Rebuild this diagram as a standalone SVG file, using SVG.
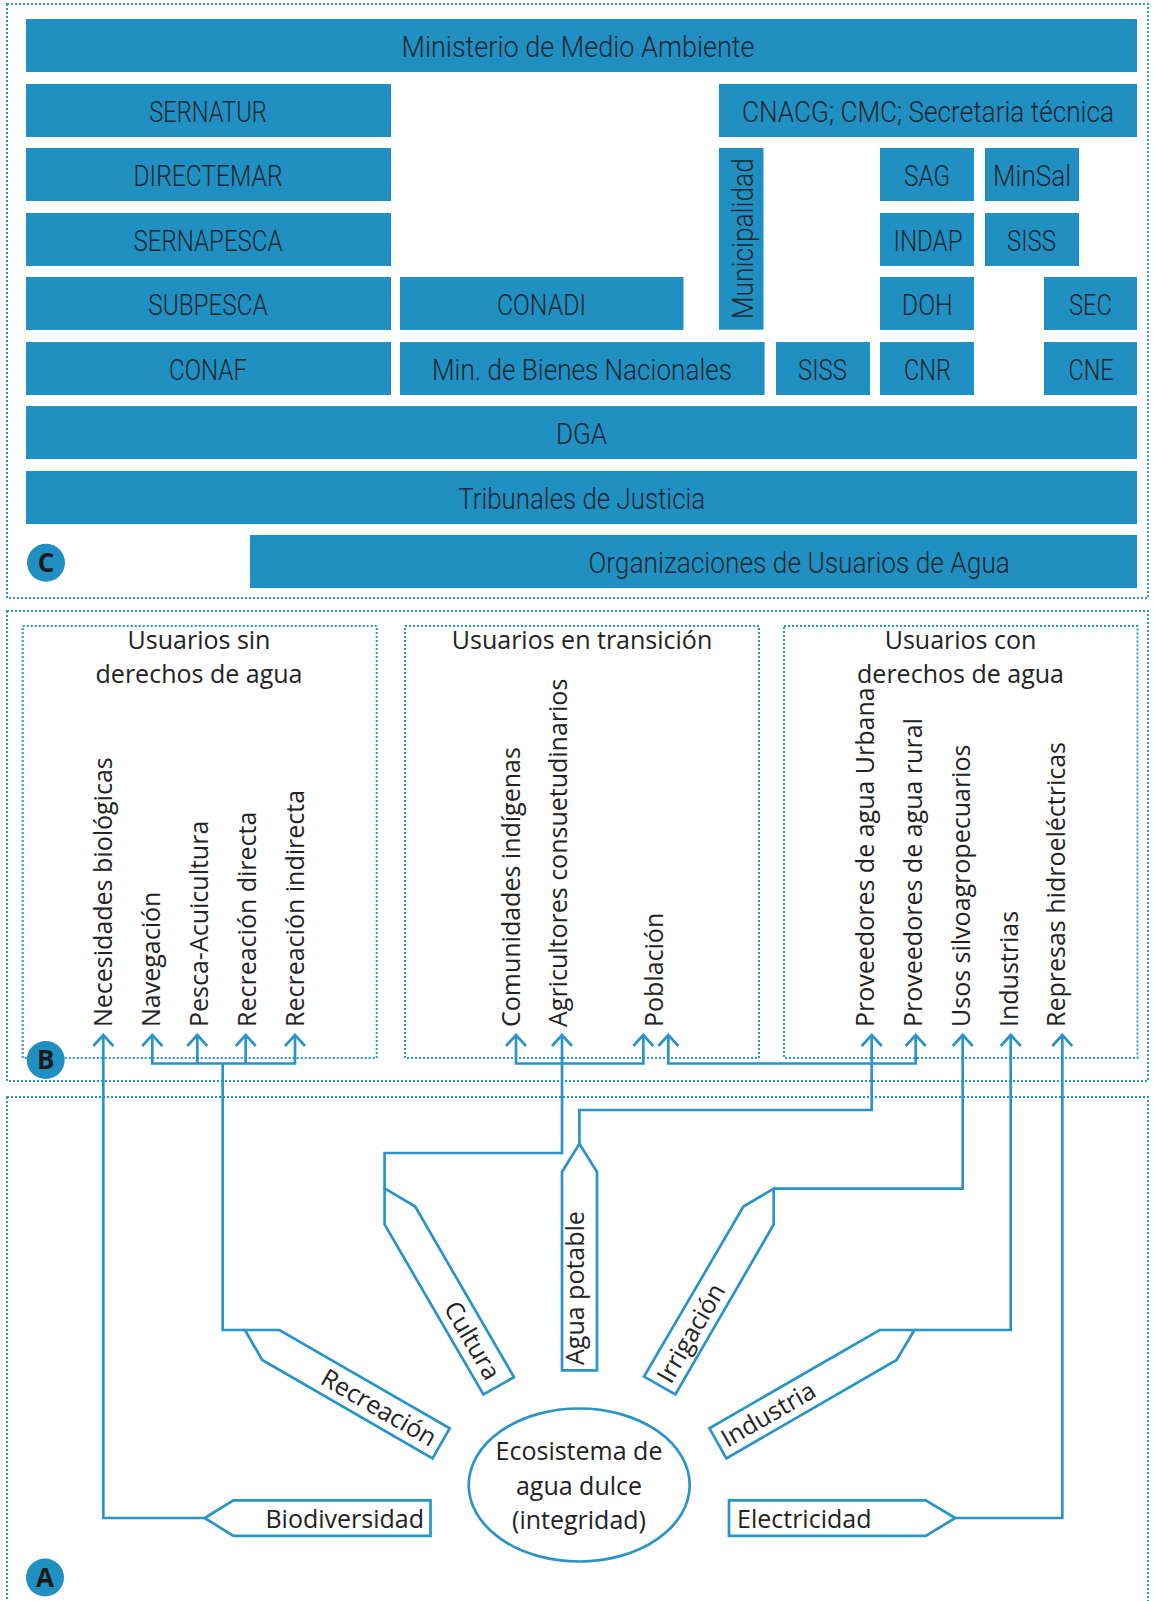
<svg xmlns="http://www.w3.org/2000/svg" width="1153" height="1601" viewBox="0 0 1153 1601">
<style>
.bar{fill:#208fc1}
.bt{font-family:Roboto,"Liberation Sans",sans-serif;font-weight:300;font-size:29px;fill:#1d2731;text-anchor:middle}
.dot{fill:none;stroke:#2a93c7;stroke-width:2;stroke-dasharray:2 2}
.ln{fill:none;stroke:#2a93c7;stroke-width:2.7}
.sh{fill:#fff;stroke:#2a93c7;stroke-width:2.7}
.t{font-family:"Open Sans","Noto Sans","DejaVu Sans",sans-serif;font-size:25px;fill:#222}
.m{text-anchor:middle}
.e{text-anchor:end}
.badge{fill:#208fc1}
.bl{font-family:"Open Sans","DejaVu Sans",sans-serif;font-weight:700;font-size:26px;fill:#1a1a1a;text-anchor:middle}
</style>
<defs>
<polyline id="ah" points="-10,11 0,0 10,11" fill="none" stroke="#2a93c7" stroke-width="2.7"/>
</defs>
<rect width="1153" height="1601" fill="#fff"/>

<g id="frames">
<rect class="dot" x="7" y="4" width="1141" height="594"/>
<rect class="dot" x="7" y="611" width="1141" height="470"/>
<rect class="dot" x="7" y="1097" width="1141" height="520"/>
<rect class="dot" x="22.7" y="626" width="354" height="432"/>
<rect class="dot" x="405" y="626" width="354" height="432"/>
<rect class="dot" x="784" y="626" width="353.5" height="432"/>
</g>

<g id="c-section">
<g id="ministerio"><rect class="bar" x="26" y="19" width="1111" height="53"/><text class="bt" x="578" y="56.5" textLength="353" lengthAdjust="spacingAndGlyphs">Ministerio de Medio Ambiente</text></g>
<g id="sernatur"><rect class="bar" x="26" y="84" width="365" height="53"/><text class="bt" x="208" y="121.5" textLength="117.5" lengthAdjust="spacingAndGlyphs">SERNATUR</text></g>
<g id="cnacg"><rect class="bar" x="719" y="84" width="418" height="53"/><text class="bt" x="928" y="121.5" textLength="372" lengthAdjust="spacingAndGlyphs">CNACG; CMC; Secretaria técnica</text></g>
<g id="directemar"><rect class="bar" x="26" y="148" width="365" height="53"/><text class="bt" x="208" y="185.5" textLength="149" lengthAdjust="spacingAndGlyphs">DIRECTEMAR</text></g>
<g id="municipalidad"><rect class="bar" x="719" y="148" width="44.5" height="181.7"/><text class="bt" transform="translate(753,238.7) rotate(-90)" textLength="161" lengthAdjust="spacingAndGlyphs">Municipalidad</text></g>
<g id="sag"><rect class="bar" x="880" y="148" width="94" height="53"/><text class="bt" x="927" y="185.5" textLength="46" lengthAdjust="spacingAndGlyphs">SAG</text></g>
<g id="minsal"><rect class="bar" x="985" y="148" width="94" height="53"/><text class="bt" x="1032" y="185.5" textLength="78" lengthAdjust="spacingAndGlyphs">MinSal</text></g>
<g id="sernapesca"><rect class="bar" x="26" y="213" width="365" height="53"/><text class="bt" x="208" y="250.5" textLength="149" lengthAdjust="spacingAndGlyphs">SERNAPESCA</text></g>
<g id="indap"><rect class="bar" x="880" y="213" width="94" height="53"/><text class="bt" x="928" y="250.5" textLength="69" lengthAdjust="spacingAndGlyphs">INDAP</text></g>
<g id="siss1"><rect class="bar" x="985" y="213" width="94" height="53"/><text class="bt" x="1031.5" y="250.5" textLength="49" lengthAdjust="spacingAndGlyphs">SISS</text></g>
<g id="subpesca"><rect class="bar" x="26" y="277" width="365" height="53"/><text class="bt" x="208" y="314.5" textLength="119.5" lengthAdjust="spacingAndGlyphs">SUBPESCA</text></g>
<g id="conadi"><rect class="bar" x="400" y="277" width="283.5" height="53"/><text class="bt" x="541.5" y="314.5" textLength="89" lengthAdjust="spacingAndGlyphs">CONADI</text></g>
<g id="doh"><rect class="bar" x="880" y="277" width="94" height="53"/><text class="bt" x="927.3" y="314.5" textLength="51" lengthAdjust="spacingAndGlyphs">DOH</text></g>
<g id="sec"><rect class="bar" x="1044" y="277" width="93" height="53"/><text class="bt" x="1090.5" y="314.5" textLength="43" lengthAdjust="spacingAndGlyphs">SEC</text></g>
<g id="conaf"><rect class="bar" x="26" y="342" width="365" height="53"/><text class="bt" x="208" y="379.5" textLength="78" lengthAdjust="spacingAndGlyphs">CONAF</text></g>
<g id="bienes"><rect class="bar" x="400" y="342" width="364.6" height="53"/><text class="bt" x="582" y="379.5" textLength="300" lengthAdjust="spacingAndGlyphs">Min. de Bienes Nacionales</text></g>
<g id="siss2"><rect class="bar" x="776" y="342" width="94" height="53"/><text class="bt" x="822.5" y="379.5" textLength="49" lengthAdjust="spacingAndGlyphs">SISS</text></g>
<g id="cnr"><rect class="bar" x="880" y="342" width="94" height="53"/><text class="bt" x="927.5" y="379.5" textLength="47" lengthAdjust="spacingAndGlyphs">CNR</text></g>
<g id="cne"><rect class="bar" x="1044" y="342" width="93" height="53"/><text class="bt" x="1091" y="379.5" textLength="45" lengthAdjust="spacingAndGlyphs">CNE</text></g>
<g id="dga"><rect class="bar" x="26" y="406" width="1111" height="53"/><text class="bt" x="581.5" y="443.5" textLength="51" lengthAdjust="spacingAndGlyphs">DGA</text></g>
<g id="tribunales"><rect class="bar" x="26" y="471" width="1111" height="53"/><text class="bt" x="581.7" y="508.5" textLength="247" lengthAdjust="spacingAndGlyphs">Tribunales de Justicia</text></g>
<g id="organizaciones"><rect class="bar" x="250" y="535" width="887" height="53"/><text class="bt" x="799.2" y="572.5" textLength="421.5" lengthAdjust="spacingAndGlyphs">Organizaciones de Usuarios de Agua</text></g>
</g>

<g id="b-section">
<g id="sin-derechos">
<text class="t m" x="199" y="649">Usuarios sin</text>
<text class="t m" x="199" y="683">derechos de agua</text>
<text class="t" transform="translate(112,1027) rotate(-90)">Necesidades biológicas</text>
<text class="t" transform="translate(159.5,1027) rotate(-90)">Navegación</text>
<text class="t" transform="translate(208,1027) rotate(-90)">Pesca-Acuicultura</text>
<text class="t" transform="translate(256,1027) rotate(-90)">Recreación directa</text>
<text class="t" transform="translate(304,1027) rotate(-90)">Recreación indirecta</text>
</g>
<g id="transicion">
<text class="t m" x="582" y="649">Usuarios en transición</text>
<text class="t" transform="translate(519.5,1027) rotate(-90)">Comunidades indígenas</text>
<text class="t" transform="translate(567,1027) rotate(-90)">Agricultores consuetudinarios</text>
<text class="t" transform="translate(663,1027) rotate(-90)">Población</text>
</g>
<g id="con-derechos">
<text class="t m" x="960.5" y="649">Usuarios con</text>
<text class="t m" x="960.5" y="683">derechos de agua</text>
<text class="t" transform="translate(873.5,1027) rotate(-90)">Proveedores de agua Urbana</text>
<text class="t" transform="translate(922,1027) rotate(-90)">Proveedores de agua rural</text>
<text class="t" transform="translate(969.5,1027) rotate(-90)">Usos silvoagropecuarios</text>
<text class="t" transform="translate(1018,1027) rotate(-90)">Industrias</text>
<text class="t" transform="translate(1065,1027) rotate(-90)">Represas hidroeléctricas</text>
</g>
</g>

<g id="connectors">
<path class="ln" d="M103.3,1035 V1518 H204.7"/>
<path class="ln" d="M152.3,1035 V1063.5 H295 V1035 M197.3,1035 V1063.5 M245.7,1035 V1063.5 M222.7,1063.5 V1330 H245"/>
<path class="ln" d="M516,1035 V1063.5 H643.3 V1035 M562,1035 V1153 H384.6 V1188.3"/>
<path class="ln" d="M668.3,1035 V1063.5 H915.7 V1035"/>
<path class="ln" d="M871.7,1035 V1110 H579.4 V1143.8"/>
<path class="ln" d="M962.7,1035 V1188.6 H773.7"/>
<path class="ln" d="M1010.7,1035 V1330 H914.4"/>
<path class="ln" d="M1062.3,1035 V1518 H955.2"/>
<use href="#ah" x="103.3" y="1035"/>
<use href="#ah" x="152.3" y="1035"/>
<use href="#ah" x="197.3" y="1035"/>
<use href="#ah" x="245.7" y="1035"/>
<use href="#ah" x="295" y="1035"/>
<use href="#ah" x="516" y="1035"/>
<use href="#ah" x="562" y="1035"/>
<use href="#ah" x="643.3" y="1035"/>
<use href="#ah" x="668.3" y="1035"/>
<use href="#ah" x="871.7" y="1035"/>
<use href="#ah" x="915.7" y="1035"/>
<use href="#ah" x="962.7" y="1035"/>
<use href="#ah" x="1010.7" y="1035"/>
<use href="#ah" x="1062.3" y="1035"/>
</g>

<g id="a-section">
<g id="biodiversidad"><polygon class="sh" points="204.7,1518 233.4,1500.3 430.5,1500.3 430.5,1535.9 233.4,1535.9"/><text class="t e" x="424" y="1528">Biodiversidad</text></g>
<g id="recreacion"><polygon class="sh" points="245,1330 279.4,1330 449.7,1428.3 432.5,1458.3 262.2,1360"/><text class="t e" transform="translate(430,1447.2) rotate(30)">Recreación</text></g>
<g id="cultura"><polygon class="sh" points="384.6,1188.3 415.2,1206.6 514,1377.2 483.4,1394.5 384.6,1224.5"/><text class="t e" transform="translate(486.2,1382) rotate(60)">Cultura</text></g>
<g id="agua-potable"><polygon class="sh" points="579.4,1143.8 597,1172 597,1370.3 562,1370.3 562,1172"/><text class="t" transform="translate(584.3,1365) rotate(-90)">Agua potable</text></g>
<g id="irrigacion"><polygon class="sh" points="773.7,1188.6 743.4,1206.6 644,1376.6 675.4,1394.5 773.7,1224.5"/><text class="t" transform="translate(670.9,1385) rotate(-60)">Irrigación</text></g>
<g id="industria"><polygon class="sh" points="914.4,1330 879.6,1330 709.4,1428.3 726.4,1458.3 896.6,1360"/><text class="t" transform="translate(727.5,1448) rotate(-30)">Industria</text></g>
<g id="electricidad"><polygon class="sh" points="955.2,1518 925.7,1500.3 729,1500.3 729,1535.9 925.7,1535.9"/><text class="t" x="737" y="1528">Electricidad</text></g>
<g id="ecosistema"><ellipse class="sh" cx="579.2" cy="1485" rx="110.5" ry="76.5"/>
<text class="t m" x="579" y="1460">Ecosistema de</text>
<text class="t m" x="579" y="1495">agua dulce</text>
<text class="t m" x="579" y="1529">(integridad)</text></g>
</g>

<g id="badges">
<g id="badge-c"><circle class="badge" cx="46" cy="562.7" r="19"/><text class="bl" x="46" y="572">C</text></g>
<g id="badge-b"><circle class="badge" cx="45.7" cy="1060" r="19"/><text class="bl" x="45.7" y="1069.3">B</text></g>
<g id="badge-a"><circle class="badge" cx="45" cy="1577.5" r="19"/><text class="bl" x="45" y="1586.8">A</text></g>
</g>
</svg>
